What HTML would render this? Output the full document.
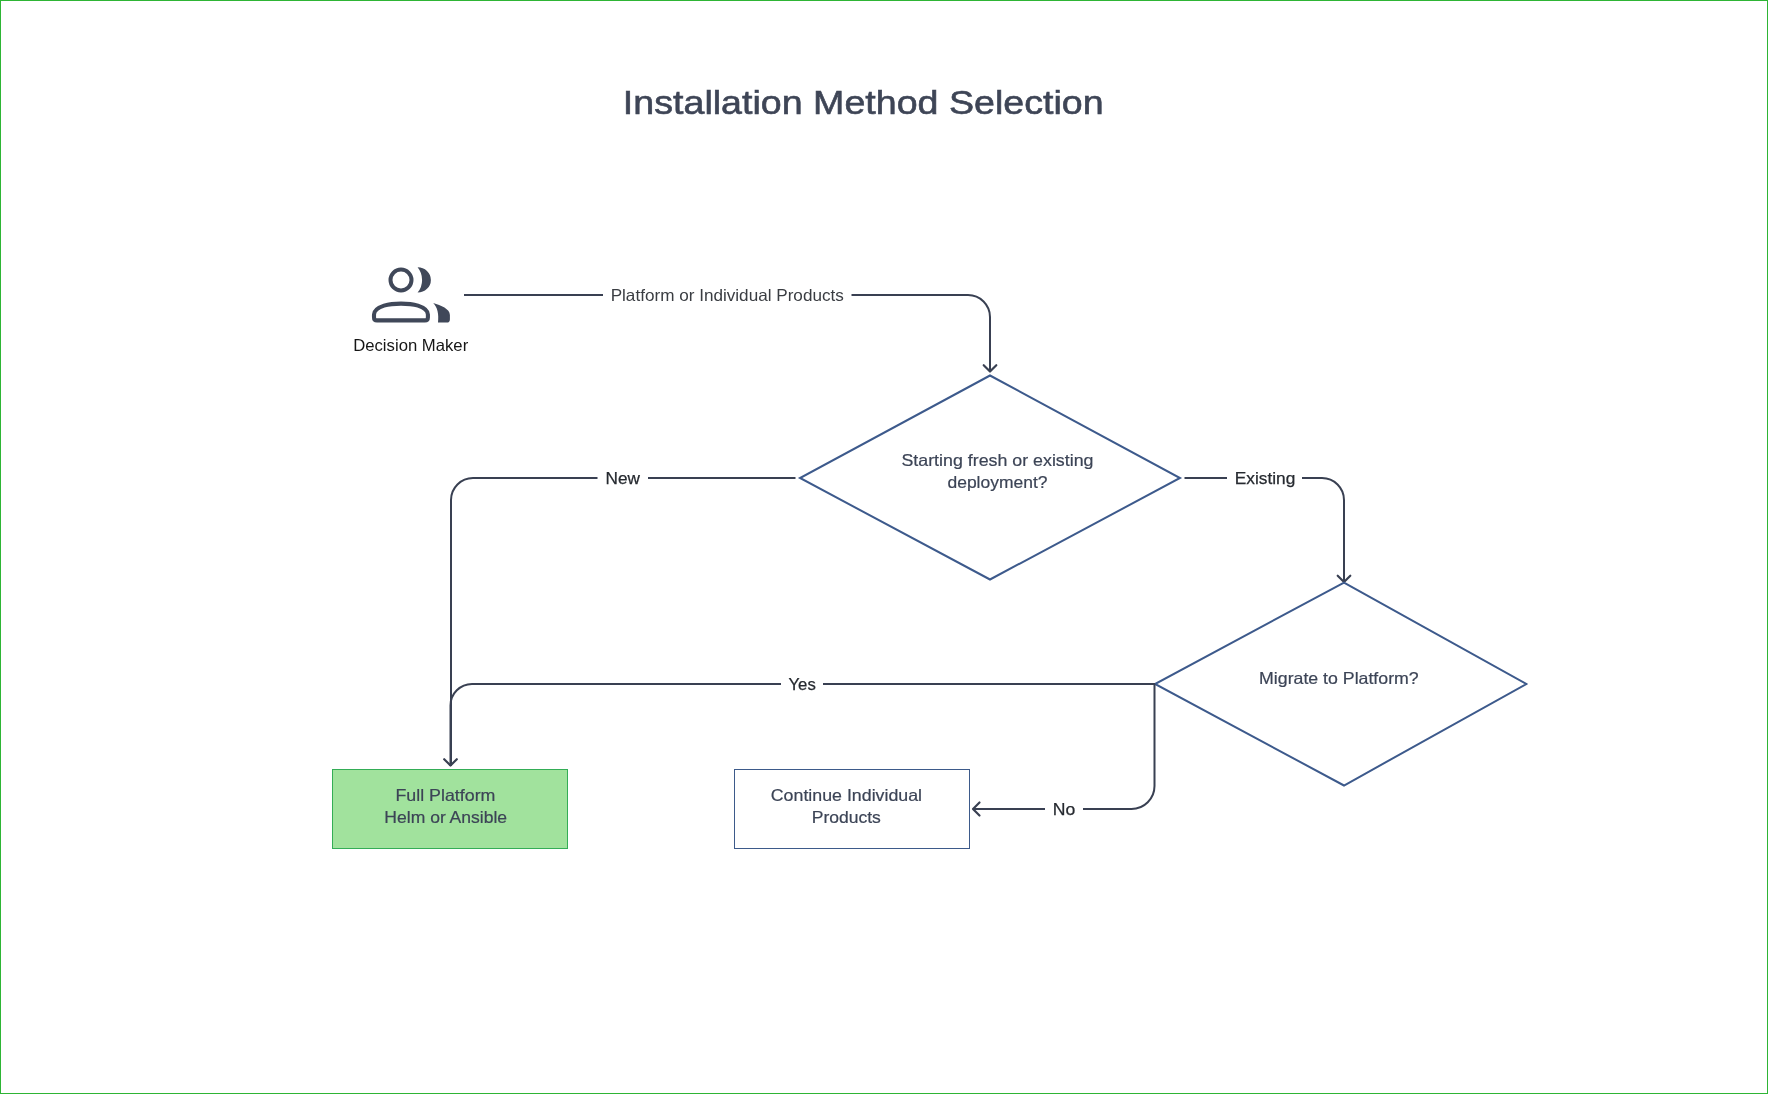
<!DOCTYPE html>
<html>
<head>
<meta charset="utf-8">
<style>
html,body{margin:0;padding:0;background:#fff;}
body{width:1768px;height:1094px;overflow:hidden;position:relative;font-family:"Liberation Sans",sans-serif;}
#frame{position:absolute;left:0;top:0;width:1766px;height:1092px;border:1px solid #2eb535;}
svg{position:absolute;left:0;top:0;will-change:transform;}
text{font-family:"Liberation Sans",sans-serif;}
.edge{fill:none;stroke:#394052;stroke-width:2;stroke-linecap:butt;stroke-linejoin:round;}
.arrow{fill:none;stroke:#394052;stroke-width:2.2;stroke-linecap:round;stroke-linejoin:round;}
.dia{fill:#fff;stroke:#3d5a8c;stroke-width:2;stroke-linejoin:miter;}
</style>
</head>
<body>
<div id="frame"></div>
<svg width="1768" height="1094" viewBox="0 0 1768 1094">
  <!-- Person icon -->
  <g fill="#404859">
    <circle cx="401" cy="280" r="10.5" fill="none" stroke="#404859" stroke-width="4"/>
    <path d="M417.6,267.2 A13.3,12.7 0 0 1 417.6,292.6 A20.2,20.2 0 0 0 417.6,267.2 Z"/>
    <path d="M374,314.5 C374,310 378,307.6 384,305.6 C390,303.9 396,303.65 401,303.65 C406,303.65 412,303.9 418,305.6 C424,307.6 427.9,310 427.9,314.5 L427.9,317.5 Q427.9,320.4 424.9,320.4 L377,320.4 Q374,320.4 374,317.5 Z" fill="none" stroke="#404859" stroke-width="4.1" stroke-linejoin="round"/>
    <path d="M433.2,303.1 C441,305.5 449.9,309 449.9,315 L449.9,319.5 Q449.9,322.6 446.8,322.6 L438,322.6 C439,314 437.5,307.5 433.2,303.1 Z"/>
  </g>

  <!-- Edge: Decision maker -> diamond1 -->
  <path class="edge" d="M464,295 L603,295 M851.5,295 L968,295 A22,22 0 0 1 990,317 L990,371"/>
  <path class="arrow" d="M983.7,365.2 L990,371.5 L996.3,365.2"/>

  <!-- Diamond 1 -->
  <polygon class="dia" points="990,375.5 1180,478 990,579.5 800,478"/>

  <!-- Edge New -->
  <path class="edge" d="M795.5,478 L648,478 M597.5,478 L473,478 A22,22 0 0 0 451,500 L451,766"/>

  <!-- Edge Existing -->
  <path class="edge" d="M1184.5,478 L1227,478 M1302,478 L1322,478 A22,22 0 0 1 1344,500 L1344,582"/>
  <path class="arrow" d="M1337.7,575.7 L1344,582 L1350.3,575.7"/>

  <!-- Diamond 2 -->
  <polygon class="dia" points="1344,582.6 1526.3,684 1344,785.5 1155,684"/>

  <!-- Edge Yes -->
  <path class="edge" d="M1155,684 L823,684 M781,684 L472,684 A21.5,21.5 0 0 0 450.5,705.5 L450.5,766"/>
  <path class="arrow" d="M444.2,759.2 L450.5,765.5 L456.8,759.2"/>

  <!-- Edge No -->
  <path class="edge" d="M1154.5,684 L1154.5,786 A23,23 0 0 1 1131.5,809 L1083,809 M1045,809 L973,809"/>
  <path class="arrow" d="M979.5,802.5 L973,809 L979.5,815.5"/>

  <!-- Boxes -->
  <rect x="332.5" y="769.5" width="235" height="79" fill="#a1e29d" stroke="#34ad56" stroke-width="1"/>
  <rect x="734.5" y="769.5" width="235" height="79" fill="#fff" stroke="#3d5a8a" stroke-width="1"/>

  <text x="863.25" y="113.90" text-anchor="middle" textLength="480.73" lengthAdjust="spacingAndGlyphs" style="font-size:34px;fill:#3e4556;stroke:#3e4556;stroke-width:0.6px;">Installation Method Selection</text>
  <text x="727.25" y="301.00" text-anchor="middle" textLength="233.19" lengthAdjust="spacingAndGlyphs" style="font-size:16.5px;fill:#3a3d42;">Platform or Individual Products</text>
  <text x="410.70" y="351.00" text-anchor="middle" textLength="115.02" lengthAdjust="spacingAndGlyphs" style="font-size:16.5px;fill:#161616;">Decision Maker</text>
  <text x="997.47" y="466.10" text-anchor="middle" textLength="191.98" lengthAdjust="spacingAndGlyphs" style="font-size:16.5px;fill:#3c4456;stroke:#3c4456;stroke-width:0.2px;">Starting fresh or existing</text>
  <text x="997.48" y="487.70" text-anchor="middle" textLength="100.01" lengthAdjust="spacingAndGlyphs" style="font-size:16.5px;fill:#3c4456;stroke:#3c4456;stroke-width:0.2px;">deployment?</text>
  <text x="622.71" y="483.80" text-anchor="middle" textLength="34.37" lengthAdjust="spacingAndGlyphs" style="font-size:16.5px;fill:#262a30;stroke:#262a30;stroke-width:0.25px;">New</text>
  <text x="1265.08" y="483.90" text-anchor="middle" textLength="60.57" lengthAdjust="spacingAndGlyphs" style="font-size:16.5px;fill:#262a30;stroke:#262a30;stroke-width:0.25px;">Existing</text>
  <text x="1338.89" y="683.90" text-anchor="middle" textLength="159.55" lengthAdjust="spacingAndGlyphs" style="font-size:16.5px;fill:#3c4456;stroke:#3c4456;stroke-width:0.2px;">Migrate to Platform?</text>
  <text x="802.12" y="689.70" text-anchor="middle" textLength="27.30" lengthAdjust="spacingAndGlyphs" style="font-size:16.5px;fill:#262a30;stroke:#262a30;stroke-width:0.25px;">Yes</text>
  <text x="1063.96" y="814.70" text-anchor="middle" textLength="22.47" lengthAdjust="spacingAndGlyphs" style="font-size:16.5px;fill:#262a30;stroke:#262a30;stroke-width:0.25px;">No</text>
  <text x="445.46" y="801.00" text-anchor="middle" textLength="99.89" lengthAdjust="spacingAndGlyphs" style="font-size:16.5px;fill:#3c4456;stroke:#3c4456;stroke-width:0.2px;">Full Platform</text>
  <text x="445.74" y="822.80" text-anchor="middle" textLength="122.76" lengthAdjust="spacingAndGlyphs" style="font-size:16.5px;fill:#3c4456;stroke:#3c4456;stroke-width:0.2px;">Helm or Ansible</text>
  <text x="846.43" y="800.70" text-anchor="middle" textLength="151.29" lengthAdjust="spacingAndGlyphs" style="font-size:16.5px;fill:#3c4456;stroke:#3c4456;stroke-width:0.2px;">Continue Individual</text>
  <text x="846.33" y="822.80" text-anchor="middle" textLength="69.13" lengthAdjust="spacingAndGlyphs" style="font-size:16.5px;fill:#3c4456;stroke:#3c4456;stroke-width:0.2px;">Products</text>
</svg>
</body>
</html>
